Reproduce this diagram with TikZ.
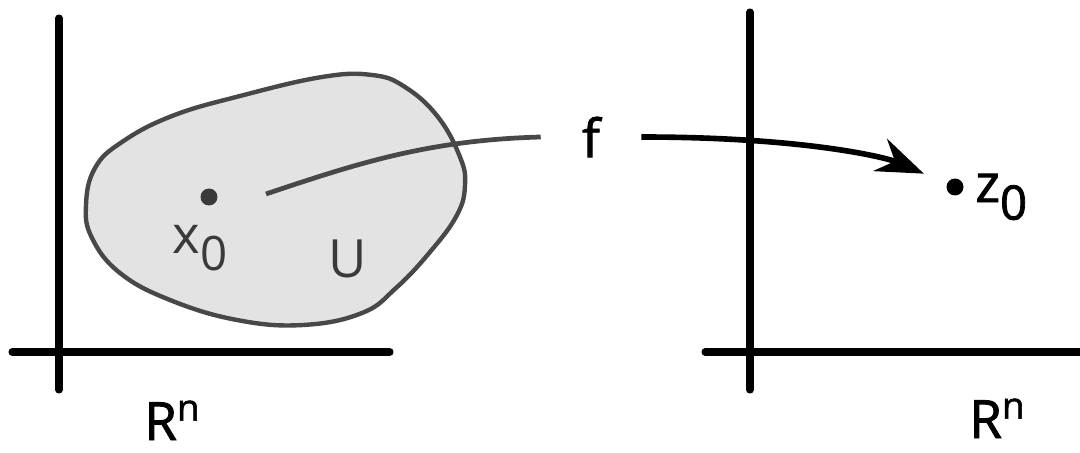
\documentclass[tikz,border=0pt]{standalone}
\usepackage{fontspec}
\setmainfont{Open Sans}
\usepackage{xcolor,tikz}
\usetikzlibrary{arrows.meta,positioning}
\definecolor{ink}{HTML}{000000}
\definecolor{slate}{HTML}{484848}
\definecolor{graytext}{HTML}{3A3A3A}
\definecolor{paperfill}{HTML}{E3E3E3}
\newcommand{\lbl}{\fontsize{30}{32}\selectfont}
\newcommand{\heavy}{\addfontfeature{FakeBold=1.6}}
\newcommand{\sub}[1]{\raisebox{-10pt}{\fontsize{27}{29}\selectfont #1}}
\newcommand{\spaceR}{R\raisebox{11pt}{\fontsize{21}{22}\selectfont n}}
\tikzset{axis/.style={line width=4pt,draw=ink,line cap=round},region/.style={line width=2.5pt,draw=slate,fill=paperfill},dot/.style={circle,fill=#1,inner sep=0pt,minimum size=.34cm},txt/.style={font=\lbl,inner sep=0pt},mapline/.style={line width=2.7pt,draw=slate},mapto/.style={-{Stealth[length=.95cm,width=.7cm,inset=.32cm]},line width=3.2pt,draw=ink,shorten >=.5cm}}

\begin{document}
\begin{tikzpicture}[x=.02cm,y=-.02cm]
\useasboundingbox (0,0) rectangle (1080,453);
\draw[axis] (59,18)--(59,390);\draw[axis] (12,352)--(390,352);
\draw[axis] (750,12)--(750,390);\draw[axis] (705,352)--(1080,352);
\draw[region] plot[smooth cycle,tension=.7] coordinates {(86,205) (95,168) (122,142) (172,116) (240,96) (322,77) (372,75) (405,87) (438,117) (460,157) (465,185) (457,215) (430,252) (396,288) (362,313) (303,325) (237,320) (170,300) (120,273) (92,238)};
\node[dot=graytext] (x0) at (209,197) {};
\node[txt,text=graytext,anchor=base] (x0lbl) at (200,253) {x\sub{0}};
\node[txt,text=graytext,anchor=base] (U) at (348,277) {U};
\coordinate (xstart) at (266,194);
\node[txt,text=ink,inner xsep=.82cm,font=\lbl\heavy] (f) at (591,137) {f};
\draw[mapline] (xstart) .. controls +(95,-32) and +(-110,3) .. (f.west);
\node[dot=ink] (z0) at (955,187) {};
\node[txt,text=ink,anchor=base west,font=\lbl\heavy] (z0lbl) at (975,202) {z\sub{0}};
\draw[mapto] (f.east) .. controls +(160,0) and +(-70,-30) .. (z0);
\node[txt,text=ink,anchor=base,font=\lbl\heavy] (Rleft) at (172,440) {\spaceR};
\node[txt,text=ink,anchor=base,font=\lbl\heavy] (Rright) at (997,438) {\spaceR};
\end{tikzpicture}
\end{document}
